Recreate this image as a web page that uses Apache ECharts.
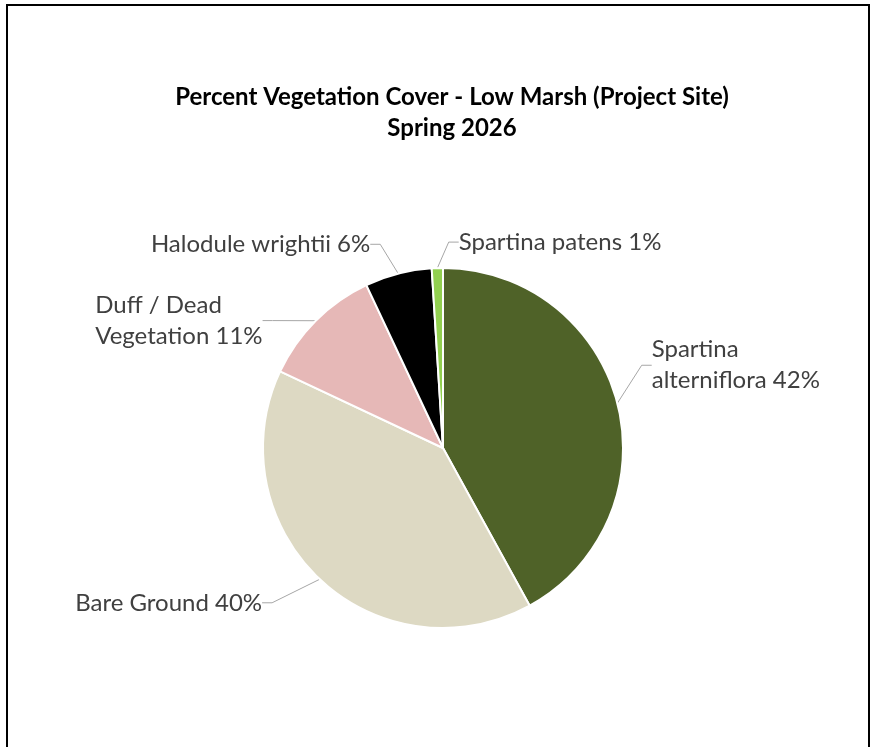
<!DOCTYPE html>
<html>
<head>
<meta charset="utf-8">
<script src="https://cdn.jsdelivr.net/npm/echarts@6/dist/echarts.min.js"></script>
<style>
  html, body { margin: 0; padding: 0; background: #fff; }
  #chart { width: 872px; height: 747px; }
</style>
</head>
<body>
<div id="chart"></div>
<script>
const categories = ['Spartina alterniflora', 'Bare Ground', 'Duff / Dead Vegetation', 'Halodule wrightii', 'Spartina patens']
const labelNames = ['Spartina\nalterniflora', 'Bare Ground', 'Duff / Dead\nVegetation', 'Halodule wrightii', 'Spartina patens']
const values = [42, 40, 11, 6, 1]
const colors = ['#4f6228', '#ddd9c3', '#e6b8b7', '#000000', '#92d050']

// nudges for the outside labels, so they sit where Excel put them
const labelShift = [[0, -33], [-29, 9], [-24, 14], [-8, -10], [0, 0]]

const chart = echarts.init(document.getElementById('chart'))

const option = {
  animation: false,
  title: {
    text: 'Percent Vegetation Cover - Low Marsh (Project Site)\nSpring 2026',
    left: 452,
    top: 82,
    padding: 0,
    textAlign: 'center',
    textStyle: {
      fontFamily: 'Lato',
      fontWeight: 'bold',
      fontSize: 24,
      lineHeight: 31,
      color: '#000'
    }
  },
  graphic: [{
    type: 'rect',
    shape: { x: 7, y: 5, width: 862, height: 800 },
    style: { fill: 'none', stroke: '#000', lineWidth: 2 },
    silent: true
  }],
  series: [{
    type: 'pie',
    center: [443, 448],
    radius: 180,
    startAngle: 90,
    clockwise: true,
    avoidLabelOverlap: false,
    itemStyle: {
      borderColor: '#fff',
      borderWidth: 2
    },
    label: {
      show: true,
      position: 'outside',
      fontFamily: 'Lato',
      fontSize: 24,
      lineHeight: 31,
      color: '#404040',
      formatter: p => labelNames[p.dataIndex] + ' ' + p.value + '%'
    },
    labelLine: {
      show: true,
      length: 20,
      length2: 10,
      lineStyle: { color: '#a6a6a6', width: 1 }
    },
    labelLayout: function (params) {
      const i = params.dataIndex
      const r = params.labelRect
      const pts = params.labelLinePoints
      if (i === 4) {
        // Excel puts the tiny last slice's label on the right side
        return { x: pts[1][0] + 22, y: pts[1][1] - 6, align: 'left' }
      }
      if (i === 2) {
        // two-line label on the left, but lines are left aligned
        return { x: r.x + labelShift[i][0], y: r.y + r.height / 2 + labelShift[i][1], align: 'left' }
      }
      const x = i === 0 ? r.x : r.x + r.width
      return {
        x: x + labelShift[i][0],
        y: r.y + r.height / 2 + labelShift[i][1]
      }
    },
    data: categories.map((name, i) => ({
      name: name,
      value: values[i],
      itemStyle: { color: colors[i] }
    }))
  }]
}

chart.setOption(option)
</script>
</body>
</html>
